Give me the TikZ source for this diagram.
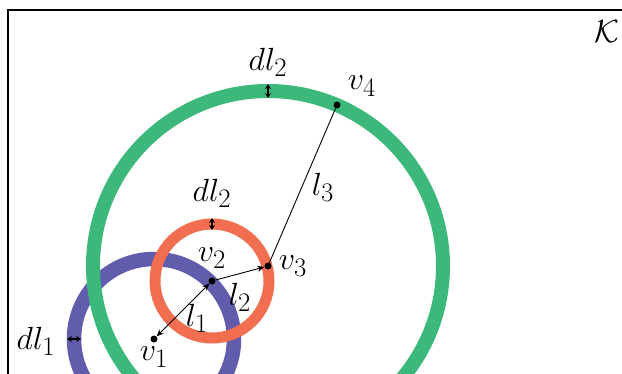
\documentclass[tikz,border=0pt]{standalone}
\usepackage{graphicx}
\usetikzlibrary{arrows.meta}
\definecolor{ringgreen}{RGB}{60,185,122}
\definecolor{ringorange}{RGB}{242,110,80}
\definecolor{ringpurple}{RGB}{98,92,172}
\newcommand{\biglbl}[1]{\scalebox{1.29}{\fontsize{24.88}{28}\selectfont$#1$}}
\begin{document}
\begin{tikzpicture}[x=1pt,y=-1pt,
  dot/.style={circle,fill=black,inner sep=0pt,minimum size=7pt},
  lbl/.style={inner sep=0pt},
  ring/.style={line width=#1},
  conn/.style={line width=0.9pt},
  tip/.style={-{Stealth[length=7pt,width=6pt]}},
  dtip/.style={{Stealth[length=5pt,width=6pt]}-{Stealth[length=5pt,width=6pt]},line width=1.2pt}]
\useasboundingbox (0,0) rectangle (622,373);
\begin{scope}
\clip (0,0) rectangle (622,373);
\draw[line width=2pt] (8,10) rectangle (700,450);
\coordinate (c1) at (154,339);
\coordinate (c2) at (212,281);
\coordinate (c3) at (268,266);
\draw[ringpurple,ring=14.5pt] (c1) circle[radius=80];
\draw[ringorange,ring=11pt] (c2) circle[radius=57];
\draw[ringgreen,ring=14pt] (c3) circle[radius=175];
\end{scope}
\node[dot] (v1) at (154,339) {};
\node[dot] (v2) at (212,281) {};
\node[dot] (v3) at (268,266) {};
\node[dot] (v4) at (337,105) {};
\draw[conn,{Stealth[length=7pt,width=6pt]}-{Stealth[length=7pt,width=6pt]}] (v1) -- (v2);
\draw[conn,tip] (v2) -- (v3);
\draw[conn] (v3) -- (v4);
% dl arrows
\coordinate (ga) at (268,84); \coordinate (gb) at (268,98);
\draw[dtip] (ga) -- (gb);
\coordinate (oa) at (212,218); \coordinate (ob) at (212,230);
\draw[dtip] (oa) -- (ob);
\coordinate (pa) at (67,339); \coordinate (pb) at (81,339);
\draw[dtip] (pa) -- (pb);
% labels
\node[lbl] (K) at (607,32) {\biglbl{\mathcal{K}}};
\node[lbl] (dlg) at (268,62) {\biglbl{dl_2}};
\node[lbl] (lv4) at (362,86) {\biglbl{v_4}};
\node[lbl] (ll3) at (323,187) {\biglbl{l_3}};
\node[lbl] (dlo) at (212,193) {\biglbl{dl_2}};
\node[lbl] (lv2) at (212,258) {\biglbl{v_2}};
\node[lbl] (lv3) at (293,266) {\biglbl{v_3}};
\node[lbl] (ll2) at (240,297) {\biglbl{l_2}};
\node[lbl] (ll1) at (197,318) {\biglbl{l_1}};
\node[lbl] (dlp) at (36,341) {\biglbl{dl_1}};
\node[lbl] (lv1) at (154,357) {\biglbl{v_1}};
\end{tikzpicture}
\end{document}
